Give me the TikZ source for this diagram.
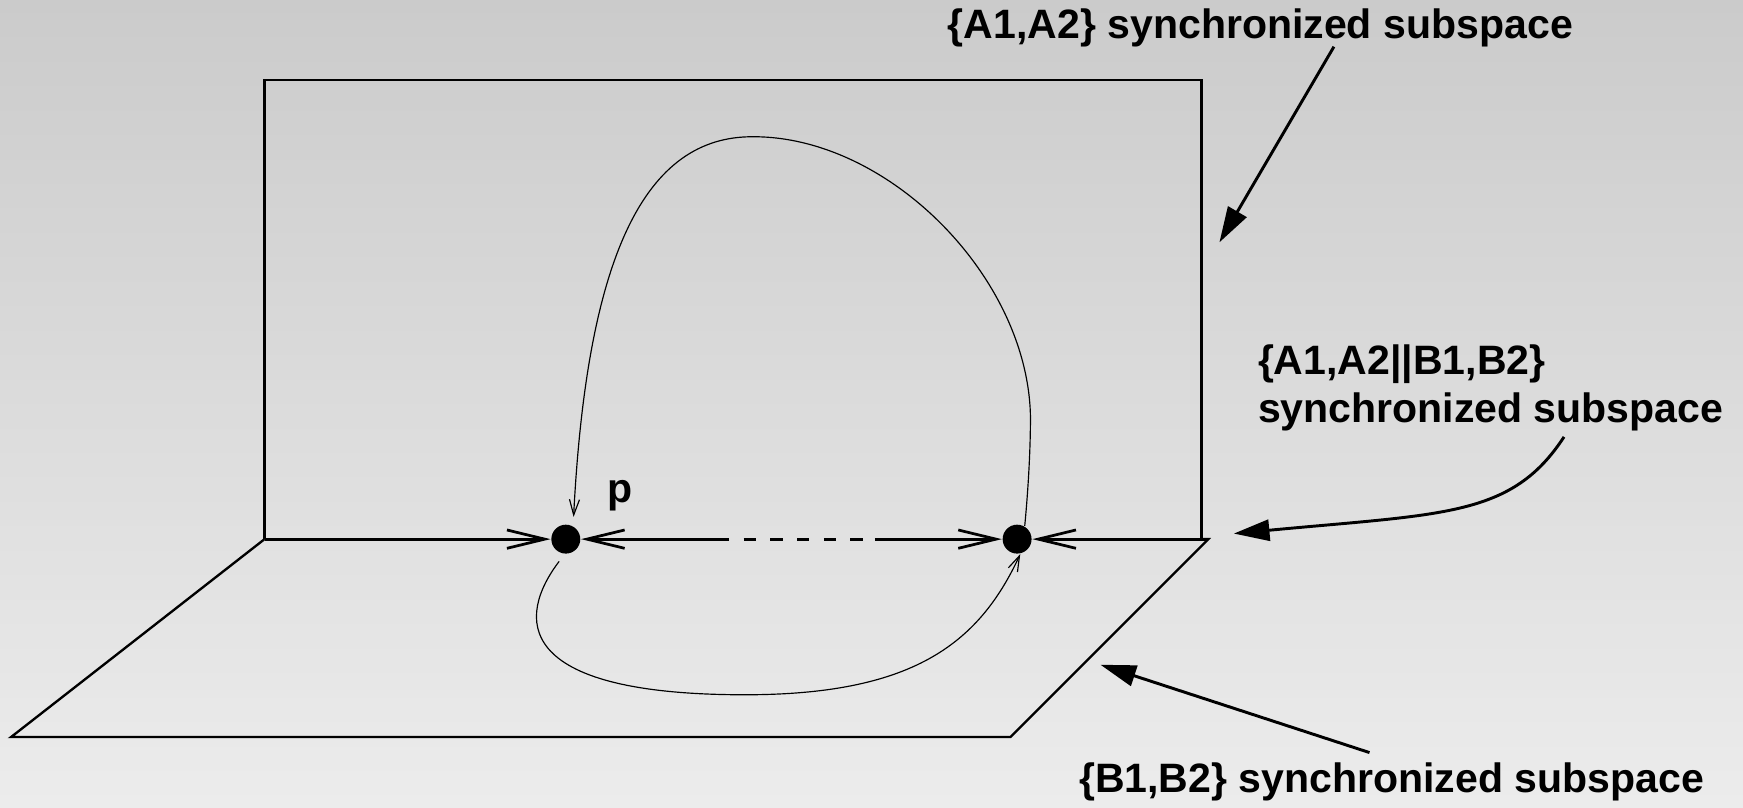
\documentclass[tikz,border=0pt]{standalone}
\usepackage{fontspec}
\setmainfont{Liberation Sans}
\usetikzlibrary{arrows.meta}
\definecolor{bgtop}{RGB}{203,203,203}
\definecolor{bgbot}{RGB}{236,236,236}
\begin{document}
\begin{tikzpicture}[x=0.01cm,y=-0.01cm,
  plane/.style={line width=0.6pt, line join=miter},
  base/.style={line width=0.7pt},
  vtip/.style={-{Straight Barb[length=0.34cm,width=0.165cm]}},
  flow/.style={line width=0.3pt, -{Straight Barb[length=0.14cm,width=0.09cm]}},
  dot/.style={circle, fill=black, minimum size=0.26cm, inner sep=0pt},
  callout/.style={line width=0.75pt, -{Triangle[length=0.32cm,width=0.19cm]}},
  lbl/.style={font=\fontsize{10.5}{12.6}\selectfont\bfseries, inner sep=0pt}]
\shade[top color=bgtop, bottom color=bgbot] (0,0) rectangle (1568,726);
\useasboundingbox (0,0) rectangle (1568,726);
% planes
\coordinate (bl) at (238,485);
\coordinate (tl) at (238,72);
\coordinate (tr) at (1081,72);
\coordinate (br) at (1081,485);
\coordinate (fr) at (1087,485);
\coordinate (ffr) at (909,663);
\coordinate (ffl) at (10,663);
\draw[plane] (bl) -- (tl) -- (tr) -- (br);
\draw[plane] (bl) -- (ffl) -- (ffr) -- (fr) -- (br);
% dots
\node[dot] (d1) at (509,485) {};
\node[dot] (d2) at (915,485) {};
\coordinate (m1) at (656,485);
\coordinate (m2) at (787,485);
\draw[base,vtip] (bl) -- (d1);
\draw[base,vtip] (m1) -- (d1);
\draw[base,dash pattern=on 3.13pt off 3.7pt,dash phase=3.13pt] (m1) -- (m2);
\draw[base,vtip] (m2) -- (d2);
\draw[base,vtip] (fr) -- (d2);
% flow curves
\coordinate (rs) at (927,375);
\coordinate (top) at (678,123);
\coordinate (c1e) at (516,465);
\draw[flow] (d2.60) .. controls (925,440) and (927,405) .. (rs)
  .. controls (925,250) and (800,123) .. (top)
  .. controls (580,122) and (528,230) .. (c1e);
\coordinate (c2s) at (503,505);
\coordinate (bot) at (670,625);
\draw[flow] (c2s) .. controls (465,555) and (460,625) .. (bot)
  .. controls (820,625) and (880,580) .. (d2.-78);
\node[lbl] (p) at (558,446) {p};
% labels
\node[lbl, anchor=base west] (l1) at (852,35) {\{A1,A2\} synchronized subspace};
\coordinate (a1s) at (1200,42);
\coordinate (a1e) at (1097,218);
\draw[callout] (a1s) -- (a1e);
\node[lbl, anchor=base west] (l2a) at (1131,337) {\{A1,A2||B1,B2\}};
\node[lbl, anchor=base west] (l2b) at (1131,380) {synchronized subspace};
\coordinate (a2s) at (1407,393);
\coordinate (a2e) at (1110,480);
\draw[callout] (a2s) .. controls (1360,465) and (1300,462) .. (a2e);
\node[lbl, anchor=base west] (l3) at (970,713) {\{B1,B2\} synchronized subspace};
\coordinate (a3s) at (1232,677);
\coordinate (a3e) at (990,598);
\draw[callout] (a3s) -- (a3e);
\end{tikzpicture}
\end{document}
